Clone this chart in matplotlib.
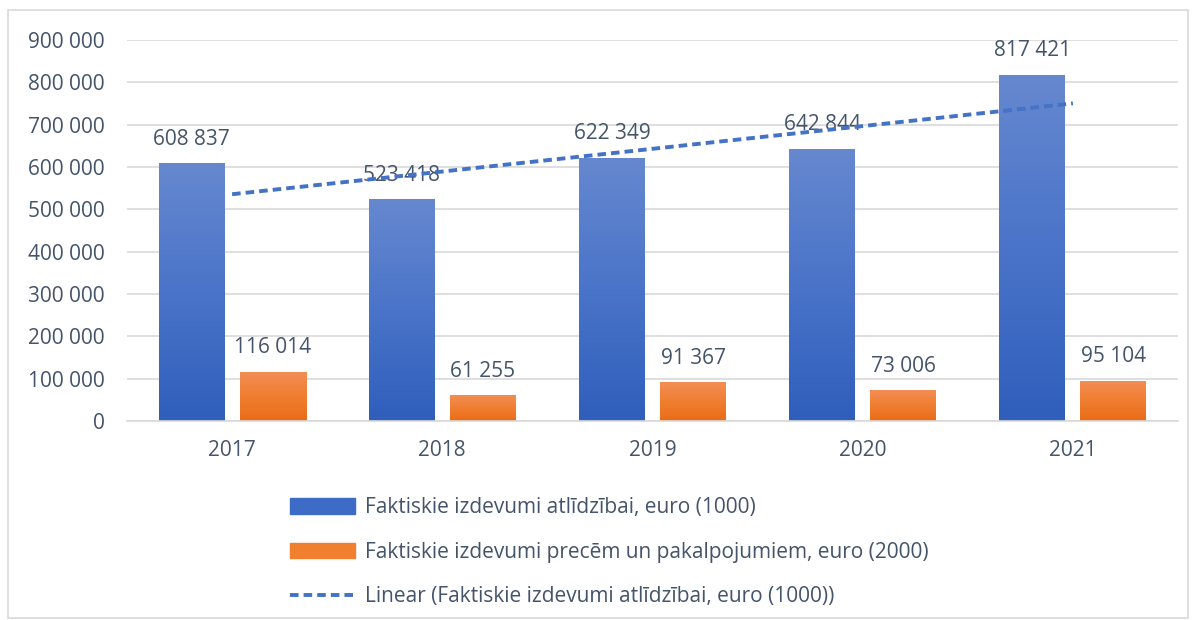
import numpy as np
import matplotlib.pyplot as plt
from matplotlib.patches import Rectangle
from matplotlib.lines import Line2D
from matplotlib.colors import LinearSegmentedColormap

years = ['2017', '2018', '2019', '2020', '2021']
atlidziba = [608837, 523418, 622349, 642844, 817421]
preces = [116014, 61255, 91367, 73006, 95104]
yticks = [0, 100000, 200000, 300000, 400000, 500000, 600000, 700000, 800000, 900000]

label_blue = 'Faktiskie izdevumi atlīdzībai, euro (1000)'
label_orange = 'Faktiskie izdevumi precēm un pakalpojumiem, euro (2000)'
label_trend = 'Linear (Faktiskie izdevumi atlīdzībai, euro (1000))'

txt = '#44546a'
fs = 15
plt.rcParams['font.family'] = ['Open Sans', 'DejaVu Sans']

fig = plt.figure(figsize=(11.94, 6.2), dpi=100)
ax = fig.add_axes([127 / 1194, 1 - 421 / 620, 1051 / 1194, 381 / 620])

# frame around the whole chart
fig.patches.append(Rectangle((8 / 1194, 2 / 620), 1180 / 1194, 608 / 620,
                             transform=fig.transFigure, fill=False,
                             edgecolor='#d9d9d9', lw=1.2))

blue_cm = LinearSegmentedColormap.from_list('b', ['#2f5ebb', '#4a74c9', '#6688cf'])
orange_cm = LinearSegmentedColormap.from_list('o', ['#e96c17', '#f07e30', '#f28e55'])

x = np.arange(len(years))
w = 66 / 210.2
gap = 15 / 210.2
grad = np.linspace(0, 1, 256).reshape(-1, 1)


def gradient_bars(xs, vals, cmap):
    bars = ax.bar(xs, vals, width=w, color='none', zorder=2)
    for b in bars:
        x0, y0 = b.get_x(), b.get_y()
        im = ax.imshow(grad, cmap=cmap, origin='lower', aspect='auto',
                       extent=[x0, x0 + b.get_width(), y0, y0 + b.get_height()],
                       zorder=2)
        im.set_clip_path(b)
    return bars


def fmt(v):
    return f'{v:,}'.replace(',', ' ')


xb = x - (w + gap) / 2
xo = x + (w + gap) / 2
gradient_bars(xb, atlidziba, blue_cm)
gradient_bars(xo, preces, orange_cm)

for xi, v in zip(xb, atlidziba):
    ax.annotate(fmt(v), (xi, v), xytext=(0, 24), textcoords='offset pixels',
                ha='center', va='center', fontsize=fs, color=txt, zorder=3)
for xi, v in zip(xo, preces):
    ax.annotate(fmt(v), (xi, v), xytext=(0, 24), textcoords='offset pixels',
                ha='center', va='center', fontsize=fs, color=txt, zorder=3)

# linear trendline
k, b0 = np.polyfit(x, atlidziba, 1)
ax.plot(x, k * x + b0, color='#4472c4', lw=2.8, ls=(0, (2.2, 1.3)), zorder=4)

ax.set_xlim(-0.5, 4.5)
ax.set_ylim(0, 900000)
ax.set_yticks(yticks)
ax.set_yticklabels([fmt(v) for v in yticks])
ax.set_xticks(x)
ax.set_xticklabels(years)
ax.tick_params(axis='both', length=0, labelsize=fs, labelcolor=txt)
ax.tick_params(axis='y', pad=16)
ax.tick_params(axis='x', pad=14)
ax.grid(axis='y', color='#d9d9d9', lw=1.2, zorder=0)
ax.set_axisbelow(True)
for s in ['top', 'right', 'left']:
    ax.spines[s].set_visible(False)
ax.spines['bottom'].set_color('#d9d9d9')
ax.spines['bottom'].set_linewidth(1.2)

handles = [Rectangle((0, 0), 1, 1, color='#3d6cc6'),
           Rectangle((0, 0), 1, 1, color='#f07f30'),
           Line2D([0], [0], color='#4472c4', lw=2.8, ls=(0, (2.2, 1.3)))]
fig.legend(handles, [label_blue, label_orange, label_trend],
           loc='upper left', bbox_to_anchor=(282 / 1194, 1 - 489 / 620),
           frameon=False, fontsize=fs, labelcolor=txt, ncol=1,
           handlelength=3.1, handleheight=0.75, handletextpad=0.5,
           labelspacing=1.12, borderaxespad=0)

fig.savefig('out.png', dpi=100)
